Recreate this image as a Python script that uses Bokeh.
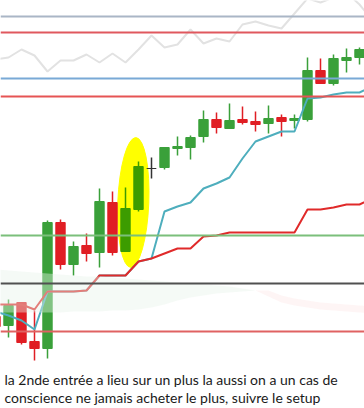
import numpy as np
from bokeh.plotting import figure
from bokeh.models import Range1d, Span, Label, ColumnDataSource
from bokeh.embed import file_html
from bokeh.resources import INLINE

# ---- data (price levels) ----
idx = list(range(-1, 28))
opens = [92, 83, 106, 67, 60, 186, 144, 163, 156, 206, 157, 199, 240, 241, 260,
         261, 272, 289, 280, 289, 287, 285, 291, 288, 289, 338, 325, 348, 351]
closes = [82, 103, 66, 60, 186, 144, 162, 155, 207, 156, 200, 242, 240, 261, 262,
          271, 289, 281, 288, 286, 284, 290, 287, 290, 338, 325, 350, 351, 359]
highs = [96, 109, 106, 98, 188, 189, 167, 175, 220, 217, 221, 247, 251, 261, 272,
         273, 298, 296, 305, 302, 297, 303, 294, 294, 351, 350, 354, 360, 361]
lows = [78, 71, 64, 48, 50, 139, 133, 147, 141, 153, 157, 197, 230, 239, 253,
        249, 266, 275, 280, 284, 277, 275, 272, 280, 287, 325, 323, 336, 344]
highlighted = [9, 10]

line_idx = list(range(-1, 29))
kijun = [97, 93, 88, 79, 117, 117, 117, 118, 133, 133, 133, 147, 150, 197, 202,
         206, 220, 225, 231, 250, 267, 272, 277, 277, 310, 311, 314, 316, 316, 322]
tenkan = [104, 104, 104, 99, 117, 117, 117, 118, 133, 133, 133, 147, 150, 155, 160,
          160, 172, 173, 176, 176, 176, 176, 176, 176, 199, 199, 201, 204, 204, 210]
chikou = [349, 351, 359, 353, 337, 348, 348, 354, 346, 355, 346, 359, 373, 361, 364,
          379, 365, 370, 367, 384, 387, 383, 380, 395, 410, 406, 411, 416, 404, 388]
span_a = [139, 138, 137, 136, 135, 134, 133, 132, 132, 131, 130, 129, 128, 127, 126,
          125, 124, 123, 122, 120, 118, 112, 106, 103, 101, 99, 98, 97, 96, 95]
span_b = [96, 96, 96, 96, 96, 96, 97, 97, 97, 98, 98, 99, 101, 104, 108,
          111, 113, 115, 116, 117, 118, 118, 113, 110, 108, 106, 105, 104, 103, 102]

levels = [392, 376, 330, 312, 173, 125, 77]
level_colors = ["#aab6c6", "#e0585e", "#79a9d6", "#e65454", "#7bbf7b", "#505050", "#e06262"]

text_lines = ["la 2nde entrée a lieu sur un plus la aussi on a un cas de",
              "conscience ne jamais acheter le plus, suivre le setup"]

# ---- figure ----
p = figure(width=364, height=408, x_range=Range1d(-8 / 13, 356 / 13), y_range=Range1d(0, 408),
           toolbar_location=None, output_backend="svg", x_axis_type=None, y_axis_type=None,
           min_border=0, background_fill_color="white", border_fill_color="white")
p.grid.visible = False
p.outline_line_color = None

# highlighter mark
p.ellipse(x=[9.6], y=[206], width=31, height=130, width_units="screen", height_units="screen",
          angle=-0.04, fill_color="#ffff00", line_color="#ffff00", line_width=1)

# candles
o = np.array(opens); c = np.array(closes)
colors = []
for i, (oo, cc) in zip(idx, zip(opens, closes)):
    if oo == cc:
        colors.append("#333333")
    elif i in highlighted:
        colors.append("#3c9c00")
    elif cc > oo:
        colors.append("#3aa03a")
    else:
        colors.append("#e01e24")
src = ColumnDataSource(dict(x=idx, top=np.maximum(o, c), bottom=np.minimum(o, c),
                            high=highs, low=lows, color=colors))
p.segment(x0="x", y0="low", x1="x", y1="high", source=src, line_color="color", line_width=1.5)
p.vbar(x="x", width=0.72, top="top", bottom="bottom", source=src,
       fill_color="color", line_color="color", line_width=1)

# ichimoku lines
p.line(line_idx, chikou, line_color="#e2e2e2", line_width=2)
p.line(line_idx, kijun, line_color="#4eaebd", line_width=2)
p.line(line_idx, tenkan, line_color="#e02a2a", line_width=2)

# cloud
a = np.array(span_a); b = np.array(span_b)
p.varea(x=line_idx, y1=np.where(a >= b, a, b), y2=b, fill_color="#e8f2ea", fill_alpha=0.42)
p.varea(x=line_idx, y1=np.where(b > a, b, a), y2=a, fill_color="#fce8e8", fill_alpha=0.45)

# horizontal levels
for lv, col in zip(levels, level_colors):
    p.add_layout(Span(location=lv, dimension="width", line_color=col, line_width=2))

# annotation text
for k, t in enumerate(text_lines):
    p.add_layout(Label(x=4, y=29 - 18 * k, x_units="screen", y_units="screen", text=t,
                       text_font="Lato", text_font_size="14px", text_color="#1a1a1a",
                       text_baseline="alphabetic"))

open("out.html", "w").write(file_html(p, INLINE))
